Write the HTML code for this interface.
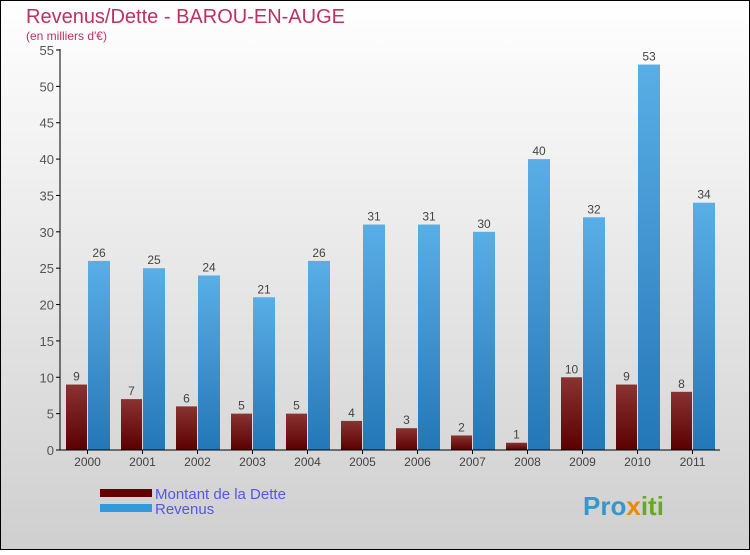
<!DOCTYPE html>
<html><head><meta charset="utf-8"><style>
body{margin:0;width:750px;height:550px;overflow:hidden;font-family:"Liberation Sans",sans-serif}
</style></head><body>
<svg width="750" height="550">
<defs>
<linearGradient id="bg" x1="0" y1="0" x2="0" y2="1"><stop offset="0" stop-color="#ffffff"/><stop offset="1" stop-color="#cfcfcf"/></linearGradient>
<linearGradient id="gd" x1="0" y1="0" x2="0" y2="1"><stop offset="0" stop-color="#8a3333"/><stop offset="1" stop-color="#5a0000"/></linearGradient>
<linearGradient id="gr" x1="0" y1="0" x2="0" y2="1"><stop offset="0" stop-color="#5aaee6"/><stop offset="1" stop-color="#2477b6"/></linearGradient>
</defs>
<rect x="0.5" y="0.5" width="749" height="549" fill="url(#bg)" stroke="#000"/>
<text x="26" y="23" font-size="20" fill="#c0305f">Revenus/Dette - BAROU-EN-AUGE</text>
<text x="26" y="40" font-size="12" fill="#c0305f">(en milliers d'€)</text>
<g id="plot"></g>
<g>
<rect x="100" y="489" width="52" height="8" fill="#600000"/>
<text x="155" y="499" font-size="15" fill="#5555ee">Montant de la Dette</text>
<rect x="100" y="504" width="52" height="8" fill="#3399dd"/>
<text x="155" y="514" font-size="15" fill="#5555ee">Revenus</text>
</g>
<text x="583" y="515" font-size="26" font-weight="bold" fill="#3399cc"><tspan fill="#3399cc">Pro</tspan><tspan fill="#ee8800">x</tspan><tspan fill="#66aa22">iti</tspan></text>
</svg>
<script>
const categories=["2000","2001","2002","2003","2004","2005","2006","2007","2008","2009","2010","2011"];
const dette=[9,7,6,5,5,4,3,2,1,10,9,8];
const revenus=[26,25,24,21,26,31,31,30,40,32,53,34];
const yTicks=[0,5,10,15,20,25,30,35,40,45,50,55];
const NS="http://www.w3.org/2000/svg";
const g=document.getElementById('plot');
const y=v=>450-v*400/55;
const x=i=>87.5+i*55;
function mk(t,a,txt){const e=document.createElementNS(NS,t);for(const k in a)e.setAttribute(k,a[k]);if(txt!==undefined)e.textContent=txt;g.appendChild(e);return e;}
yTicks.forEach(v=>{
 const t=mk('line',{x1:56,x2:60,y1:y(v),y2:y(v),stroke:'#000'});
 
 
 const l=mk('text',{x:54,y:y(v)+5,'font-size':13,fill:'#555','text-anchor':'end'},v);
 
 
});
categories.forEach((c,i)=>{
 const b1=mk('rect',{x:x(i)-21.5,y:y(dette[i]),width:21,height:450-y(dette[i]),fill:'url(#gd)'});
 
 
 const t1=mk('text',{x:x(i)-11,y:y(dette[i])-4,'font-size':12,fill:'#444','text-anchor':'middle'},dette[i]);
 
 
 const b2=mk('rect',{x:x(i)+0.5,y:y(revenus[i]),width:22,height:450-y(revenus[i]),fill:'url(#gr)'});
 
 
 const t2=mk('text',{x:x(i)+11.5,y:y(revenus[i])-4,'font-size':12,fill:'#444','text-anchor':'middle'},revenus[i]);
 
 
 const tk=mk('line',{x1:x(i),x2:x(i),y1:450,y2:454,stroke:'#000'});
 
 
 const xl=mk('text',{x:x(i),y:466,'font-size':12,fill:'#444','text-anchor':'middle'},c);
 
 
});
const ya=mk('line',{x1:60,x2:60,y1:49,y2:450,stroke:'#000'});


const xa=mk('line',{x1:60,x2:720,y1:450,y2:450,stroke:'#000'});


</script>
</body></html>
